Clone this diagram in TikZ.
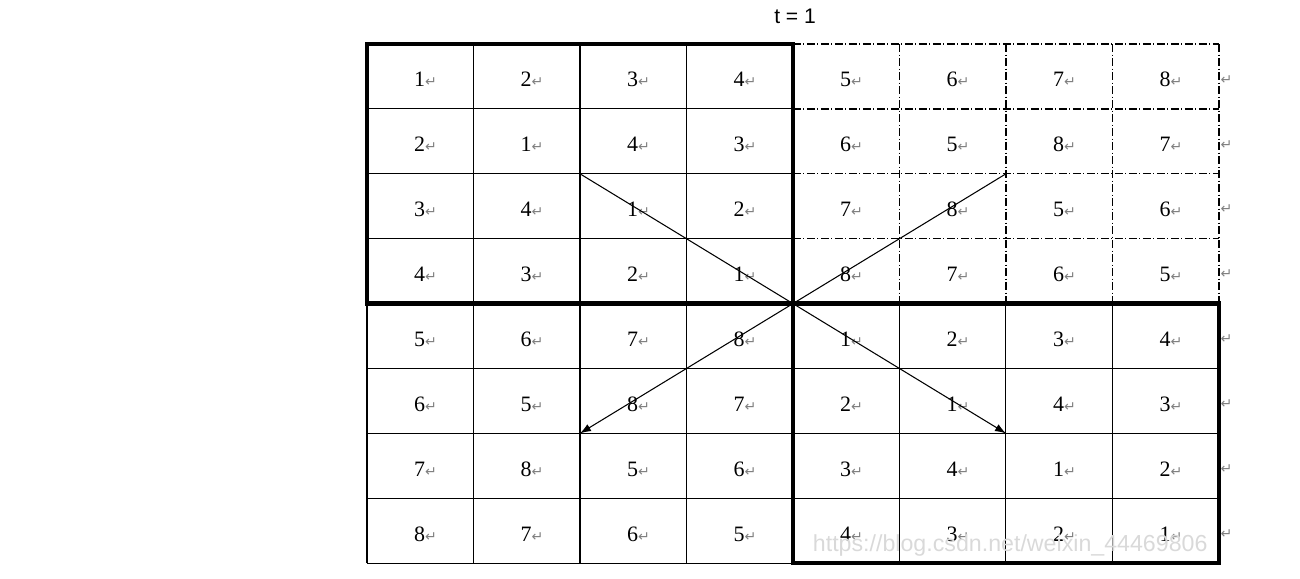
\documentclass[tikz,border=0pt]{standalone}
\usepackage{fontspec}
\usetikzlibrary{arrows.meta}
\setmainfont{Liberation Serif}
\newfontfamily\sansf{Liberation Sans}
\newfontfamily\markf{DejaVu Sans}
\newcommand{\ret}{{\markf\color{gray}\fontsize{8}{8}\selectfont ↵}}

\begin{document}
\begin{tikzpicture}[x=2.13cm, y=-1.298cm,
    thinline/.style={line width=0.6pt},
    thickbox/.style={line width=2.4pt},
    dotdash/.style={line width=0.7pt, dash pattern=on 0.16cm off 0.05cm on 0.02cm off 0.05cm},
    cell/.style={font=\fontsize{12.5}{12.5}\selectfont, inner sep=0pt}]
     \useasboundingbox (-3.446,-0.678) rectangle (8.761,8.243);
     % thin grid, left half and lower right
     \foreach \i in {0,...,8} \draw[thinline] (0,\i) -- (4,\i);
     \foreach \j in {0,...,4} \draw[thinline] (\j,0) -- (\j,8);
     \foreach \i in {4,...,8} \draw[thinline] (4,\i) -- (8,\i);
     \foreach \j in {5,...,8} \draw[thinline] (\j,4) -- (\j,8);
     % dash-dot grid, upper right
     \foreach \i in {0,...,3} \draw[dotdash] (4,\i) -- (8,\i);
     \foreach \j in {5,...,8} \draw[dotdash] (\j,0) -- (\j,4);
     % the two bold blocks
     \draw[thickbox] (0,0) rectangle (4,4);
     \draw[thickbox] (4,4) rectangle (8,8);
     % cell values
     \foreach \r/\vals in {1/{1,2,3,4,5,6,7,8}, 2/{2,1,4,3,6,5,8,7},
                           3/{3,4,1,2,7,8,5,6}, 4/{4,3,2,1,8,7,6,5},
                           5/{5,6,7,8,1,2,3,4}, 6/{6,5,8,7,2,1,4,3},
                           7/{7,8,5,6,3,4,1,2}, 8/{8,7,6,5,4,3,2,1}}
       \foreach \v [count=\c] in \vals
         \node[cell] (c\r\c) at (\c-0.45,\r-0.45) {\v\ret};
     \foreach \r in {1,...,8} \node[cell] (e\r) at (8.07,\r-0.45) {\ret};
     % swap arrows
     \coordinate (nw) at (2,2);
     \coordinate (se) at (6,6);
     \coordinate (ne) at (6,2);
     \coordinate (sw) at (2,6);
     \draw[thinline,-{Latex[length=2.2mm,width=1.6mm]}] (nw) -- (se);
     \draw[thinline,-{Latex[length=2.2mm,width=1.6mm]}] (ne) -- (sw);
     \node[font=\sansf\fontsize{12}{12}\selectfont] (title) at (4.02,-0.42) {t = 1};
     \node[font=\sansf\fontsize{13.2}{13.2}\selectfont, text=black!15] (mark) at (6.04,7.72) {https://blog.csdn.net/weixin\_44469806};
\end{tikzpicture}
\end{document}
